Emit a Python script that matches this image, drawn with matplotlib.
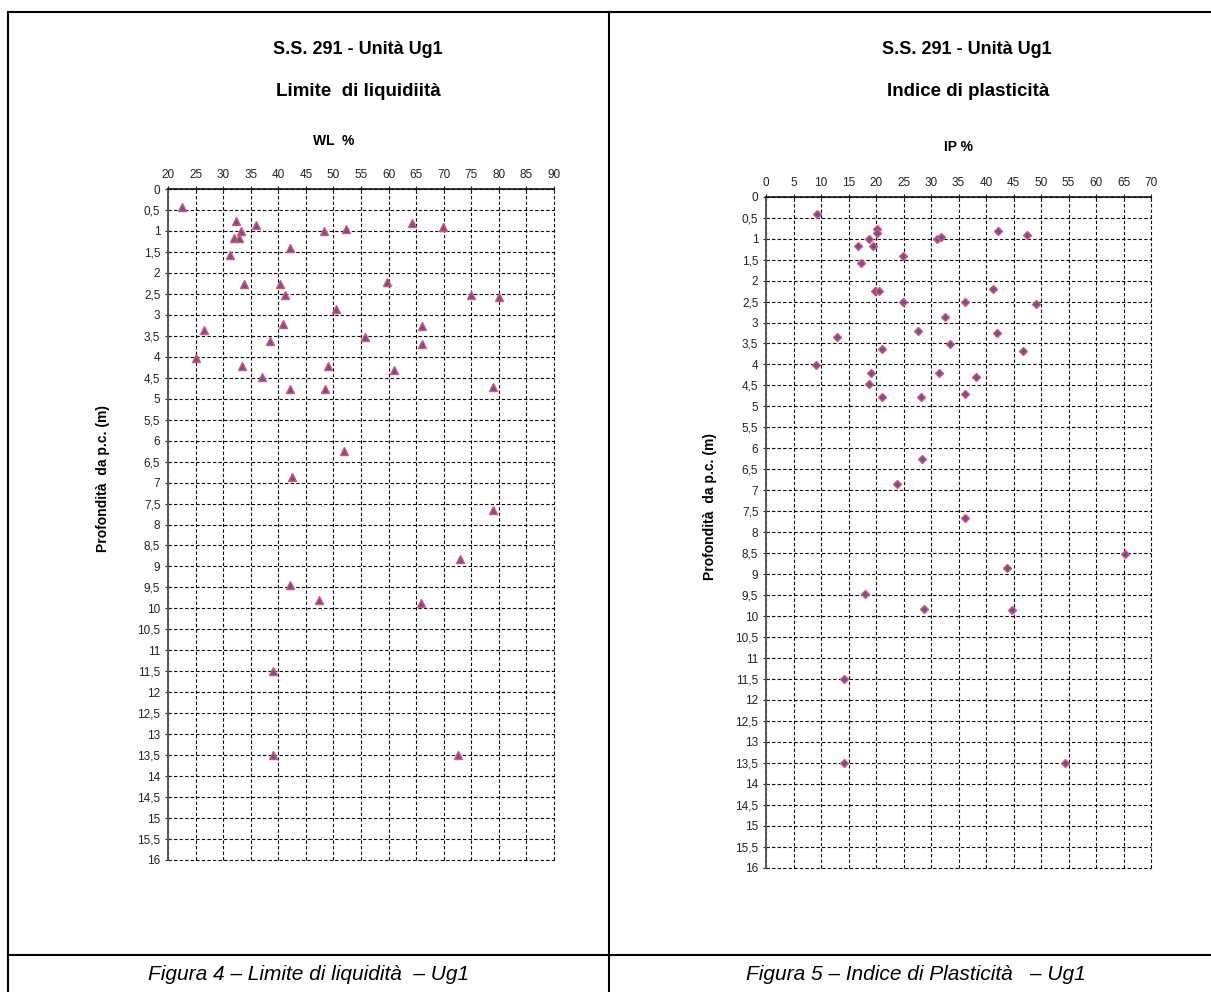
import numpy as np
import matplotlib
matplotlib.use("Agg")
import matplotlib.pyplot as plt
from matplotlib.lines import Line2D
from matplotlib.ticker import FuncFormatter

plt.rcParams['font.family'] = ['Liberation Sans', 'DejaVu Sans']

# Limite di liquidità WL (%) vs profondità (m)
wl = [22.5, 32.4, 36.0, 33.3, 31.9, 32.8, 48.2, 52.2, 64.2, 69.8,
      42.1, 31.3, 33.7, 40.3, 59.8, 41.3, 74.9, 80.0, 50.5, 40.8,
      66.0, 26.5, 55.7, 38.5, 66.0, 25.1, 33.5, 49.1, 61.0, 37.1,
      42.1, 48.5, 79.0, 51.9, 42.5, 79.0, 73.0, 42.1, 47.3, 65.8,
      39.0, 39.0, 72.6]
wl_depth = [0.42, 0.77, 0.86, 1.0, 1.16, 1.16, 1.0, 0.96, 0.81, 0.91,
            1.40, 1.58, 2.26, 2.26, 2.21, 2.52, 2.52, 2.58, 2.87, 3.22,
            3.27, 3.37, 3.52, 3.63, 3.69, 4.03, 4.22, 4.22, 4.31, 4.48,
            4.76, 4.76, 4.71, 6.25, 6.86, 7.66, 8.83, 9.45, 9.81, 9.86,
            11.5, 13.5, 13.5]

# Indice di plasticità IP (%) vs profondità (m)
ip = [9.2, 20.2, 20.1, 18.8, 16.7, 19.4, 31.0, 31.8, 42.2, 47.5,
      24.9, 17.3, 19.9, 20.5, 41.3, 24.9, 36.1, 49.1, 32.5, 27.6,
      42.0, 12.9, 33.5, 21.0, 46.8, 9.0, 19.0, 31.4, 38.1, 18.7,
      21.0, 28.2, 36.1, 28.4, 23.8, 36.1, 65.3, 43.9, 18.0, 28.7,
      44.8, 14.1, 14.1, 54.4]
ip_depth = [0.42, 0.76, 0.87, 1.0, 1.17, 1.17, 1.0, 0.95, 0.81, 0.91,
            1.41, 1.57, 2.25, 2.25, 2.20, 2.50, 2.50, 2.55, 2.86, 3.21,
            3.26, 3.35, 3.51, 3.62, 3.69, 4.01, 4.21, 4.21, 4.30, 4.46,
            4.77, 4.77, 4.70, 6.26, 6.86, 7.67, 8.51, 8.85, 9.47, 9.82,
            9.86, 11.51, 13.51, 13.51]

face = '#4f5f9c'
edge = '#e8506a'

fig = plt.figure(figsize=(12.11, 9.92), dpi=100)

# table borders
lines = [([8 / 1211, 1.0], [0.988, 0.988]),
         ([8 / 1211, 8 / 1211], [0.0, 0.988]),
         ([609 / 1211, 609 / 1211], [0.0, 0.988]),
         ([8 / 1211, 1.0], [1 - 955 / 992, 1 - 955 / 992])]
for xs, ys in lines:
    fig.add_artist(Line2D(xs, ys, color='black', lw=1.5, transform=fig.transFigure))


def comma(v, pos):
    s = ('%g' % v)
    return s.replace('.', ',')


def setup(ax, xmin, xmax):
    ax.set_xlim(xmin, xmax)
    ax.set_ylim(16, 0)
    ax.xaxis.tick_top()
    ax.set_xticks(np.arange(xmin, xmax + 1, 5))
    ax.set_yticks(np.arange(0, 16.01, 0.5))
    ax.yaxis.set_major_formatter(FuncFormatter(comma))
    ax.tick_params(axis='both', direction='inout', length=5, width=0.8,
                   labelsize=8.5, colors='#222222', pad=3)
    ax.tick_params(axis='x', labeltop=True, labelbottom=False)
    ax.grid(True, color='black', linestyle=(0, (3, 2)), linewidth=0.8)
    ax.spines['right'].set_visible(False)
    ax.spines['bottom'].set_visible(False)
    ax.spines['left'].set_color('#555555')
    ax.spines['left'].set_linewidth(1.4)
    ax.spines['top'].set_color('#111111')
    ax.spines['top'].set_linewidth(1.2)
    for s in ax.get_xgridlines() + ax.get_ygridlines():
        s.set_clip_on(False)


ax1 = fig.add_axes([168 / 1211, 1 - 860 / 992, 386 / 1211, 671 / 992])
setup(ax1, 20, 90)
ax1.plot(wl, wl_depth, linestyle='none', marker='^', markersize=5.5,
         markerfacecolor=face, markeredgecolor=edge, markeredgewidth=1.0, clip_on=False)

ax2 = fig.add_axes([766 / 1211, 1 - 867.7 / 992, 385 / 1211, 671 / 992])
setup(ax2, 0, 70)
ax2.plot(ip, ip_depth, linestyle='none', marker='D', markersize=4.5,
         markerfacecolor=face, markeredgecolor=edge, markeredgewidth=1.0, clip_on=False)

# titles
fig.text(358 / 1211, 1 - 50 / 992, 'S.S. 291 - Unità Ug1', ha='center', va='center',
         fontsize=13, fontweight='bold')
fig.text(358 / 1211, 1 - 92 / 992, 'Limite  di liquidiità', ha='center', va='center',
         fontsize=13.5, fontweight='bold')
fig.text(334 / 1211, 1 - 141 / 992, 'WL  %', ha='center', va='center',
         fontsize=10, fontweight='bold')
fig.text(967 / 1211, 1 - 50 / 992, 'S.S. 291 - Unità Ug1', ha='center', va='center',
         fontsize=13, fontweight='bold')
fig.text(968 / 1211, 1 - 92 / 992, 'Indice di plasticità', ha='center', va='center',
         fontsize=13.5, fontweight='bold')
fig.text(958 / 1211, 1 - 147 / 992, 'IP %', ha='center', va='center',
         fontsize=10, fontweight='bold')
fig.text(103 / 1211, 1 - 479 / 992, 'Profondità  da p.c. (m)', ha='center', va='center',
         rotation=90, fontsize=10, fontweight='bold')
fig.text(710 / 1211, 1 - 507 / 992, 'Profondità  da p.c. (m)', ha='center', va='center',
         rotation=90, fontsize=10, fontweight='bold')

# captions
cap_font = ['Liberation Sans Narrow', 'Liberation Sans', 'DejaVu Sans']
fig.text(309 / 1211, 1 - 975 / 992, 'Figura 4 – Limite di liquidità  – Ug1', ha='center',
         va='center', fontsize=15, fontstyle='italic', family=cap_font)
fig.text(916 / 1211, 1 - 975 / 992, 'Figura 5 – Indice di Plasticità   – Ug1', ha='center',
         va='center', fontsize=15, fontstyle='italic', family=cap_font)

fig.savefig('out.png', dpi=100)
